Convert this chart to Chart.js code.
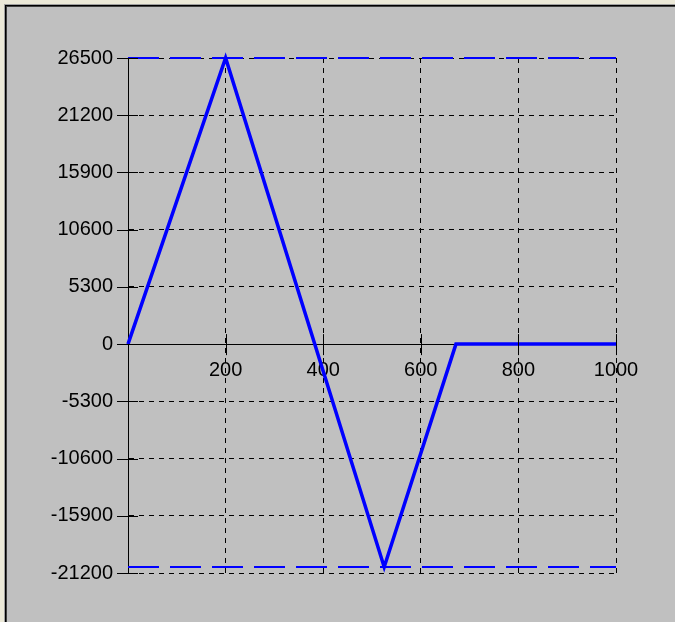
<!DOCTYPE html>
<html>
<head>
<meta charset="utf-8">
<script src="https://cdn.jsdelivr.net/npm/chart.js@4.4.1/dist/chart.umd.min.js"></script>
<style>
  html, body { margin: 0; padding: 0; background: #ece9d8; overflow: hidden; }
  .frame {
    position: absolute; left: 4px; top: 4px; width: 720px; height: 680px;
    background: #c0c0c0;
    border-left: 1px solid #a0a0a0; border-top: 1px solid #a0a0a0;
    box-shadow: inset 1px 1px 0 #000, inset 2px 2px 0 #404040;
  }
  #wrap { position: absolute; left: 0; top: 0; width: 675px; height: 622px; }
</style>
</head>
<body>
<div class="frame"></div>
<div id="wrap"><canvas id="profile"></canvas></div>
<script>
// profile data
const posX = [0, 200, 525, 672, 1000];
const posY = [0, 26500, -20650, 0, 0];
const maxLevel = 26500;
const minLevel = -20650;

// axis ticks
const xTicks = [0, 200, 400, 600, 800, 1000];
const yTicks = [-21200, -15900, -10600, -5300, 0, 5300, 10600, 15900, 21200, 26500];

const toPoints = (xs, ys) => xs.map((x, i) => ({ x: x, y: ys[i] }));
const xMin = xTicks[0];
const xMax = xTicks[xTicks.length - 1];

// draws the little tick marks that cross both axes
const crossTicks = {
  id: "crossTicks",
  afterDraw(chart) {
    const { ctx, scales } = chart;
    const xs = scales.x;
    const ys = scales.y;
    const x0 = xs.getPixelForValue(0);
    const y0 = ys.getPixelForValue(0);
    ctx.save();
    ctx.strokeStyle = "#000";
    ctx.lineWidth = 1;
    ctx.beginPath();
    yTicks.forEach((v) => {
      const py = Math.round(ys.getPixelForValue(v)) + 0.5;
      ctx.moveTo(x0 - 11, py);
      ctx.lineTo(x0 + 10, py);
    });
    xTicks.slice(1).forEach((v) => {
      const px = Math.round(xs.getPixelForValue(v)) + 0.5;
      ctx.moveTo(px, y0 - 10);
      ctx.lineTo(px, y0 + 11);
    });
    ctx.stroke();
    ctx.restore();
  },
};

Chart.defaults.font.family = "'Liberation Sans', Arial, sans-serif";
Chart.defaults.font.size = 20;
Chart.defaults.color = "#000";

new Chart(document.getElementById("profile"), {
  type: "line",
  data: {
    datasets: [
      {
        label: "profile",
        data: toPoints(posX, posY),
        borderColor: "#0000ff",
        borderWidth: 3.5,
        pointRadius: 0,
        tension: 0,
        clip: false,
        order: 0,
      },
      {
        label: "max",
        data: toPoints([xMin, xMax], [maxLevel, maxLevel]),
        borderColor: "#0000ff",
        borderWidth: 2,
        borderDash: [31, 11],
        pointRadius: 0,
        clip: false,
        order: 1,
      },
      {
        label: "min",
        data: toPoints([xMin, xMax], [minLevel, minLevel]),
        borderColor: "#0000ff",
        borderWidth: 2,
        borderDash: [31, 11],
        pointRadius: 0,
        clip: false,
        order: 1,
      },
    ],
  },
  options: {
    responsive: true,
    maintainAspectRatio: false,
    animation: false,
    devicePixelRatio: 1,
    layout: {
      padding: { left: 0, top: 58, right: 59, bottom: 49 },
    },
    plugins: {
      legend: { display: false },
      tooltip: { enabled: false },
    },
    scales: {
      x: {
        type: "linear",
        position: { y: 0 },
        min: xMin,
        max: xMax,
        afterBuildTicks: (scale) => {
          scale.ticks = xTicks.map((v) => ({ value: v }));
        },
        ticks: {
          padding: 14,
          maxRotation: 0,
          callback: (v) => (v === 0 ? null : String(v)),
        },
        grid: {
          color: "#000",
          lineWidth: 1,
          drawTicks: false,
        },
        border: { display: true, color: "#000", width: 1, dash: [5, 5] },
      },
      y: {
        type: "linear",
        position: "left",
        min: yTicks[0],
        max: yTicks[yTicks.length - 1],
        afterBuildTicks: (scale) => {
          scale.ticks = yTicks.map((v) => ({ value: v }));
        },
        afterFit: (scale) => {
          scale.width = 128;
        },
        ticks: {
          padding: 15,
          callback: (v) => String(v),
        },
        grid: {
          color: "#000",
          lineWidth: 1,
          drawTicks: false,
        },
        border: { display: true, color: "#000", width: 1, dash: [5, 5] },
      },
    },
  },
  plugins: [crossTicks],
});
</script>
</body>
</html>
